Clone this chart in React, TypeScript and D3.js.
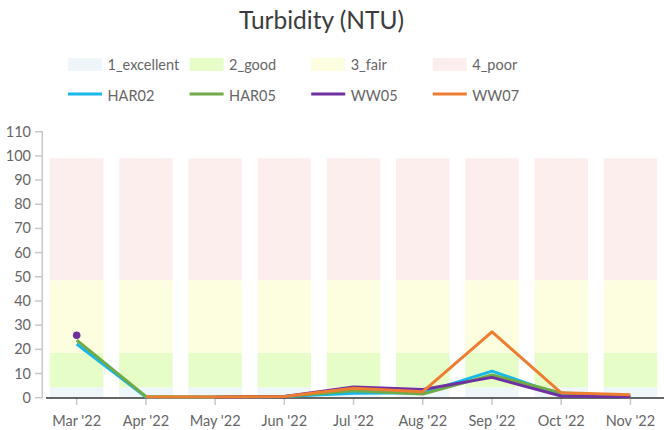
import React from "react";
import * as d3 from "d3";

const months = ["Mar '22", "Apr '22", "May '22", "Jun '22", "Jul '22", "Aug '22", "Sep '22", "Oct '22", "Nov '22"];
const bandNames = ["1_excellent", "2_good", "3_fair", "4_poor"];
const bandValues = [4.3, 14.3, 30, 50.4];
const bandColors = ["#eef6f9", "#e6fdc8", "#fdfddf", "#fdeeee"];

const seriesNames = ["HAR02", "HAR05", "WW05", "WW07"];
const seriesColors = ["#17b8ea", "#6fab46", "#7030a0", "#ed7d31"];
const har02: (number | null)[] = [22.2, 0.3, 0.2, 0.5, 1.8, 2.0, 11.0, 1.0, 0.5];
const har05: (number | null)[] = [23.8, 0.5, 0.3, 0.5, 2.9, 1.5, 9.4, 2.0, 0.1];
const ww05: (number | null)[] = [25.8, null, 0.2, 0.5, 4.4, 3.4, 8.4, 0.7, 0.3];
const ww07: (number | null)[] = [null, 0.3, 0.3, 0.5, 3.9, 2.5, 27.2, 2.0, 1.2];
const seriesData = [har02, har05, ww05, ww07];

const yTicks = [0, 10, 20, 30, 40, 50, 60, 70, 80, 90, 100, 110];

const W = 664;
const H = 430;
const FONT = "Lato, 'Open Sans', sans-serif";

export default function App() {
  const x = d3.scaleBand<string>().domain(months).range([42.1, 665]).paddingInner(0.227).paddingOuter(0.113);
  const y = d3.scaleLinear().domain([0, 110]).range([397.7, 131.7]);
  const cx = (m: string) => (x(m) as number) + x.bandwidth() / 2;

  const stacks = bandValues.map((_, i) => {
    const lo = d3.sum(bandValues.slice(0, i));
    return [lo, lo + bandValues[i]];
  });

  const line = d3
    .line<number | null>()
    .defined((d) => d !== null)
    .x((_, i) => cx(months[i]))
    .y((d) => y(d as number));

  return (
    <svg width={W} height={H} style={{ position: "absolute", left: 0, top: 0 }} fontFamily={FONT}>
      <text x={321.5} y={28.5} textAnchor="middle" fontSize={24.5} fill="#3c3c3c">
        Turbidity (NTU)
      </text>
      {bandNames.map((n, i) => (
        <g key={n} transform={`translate(${68 + i * 121.6},0)`}>
          <rect x={0} y={58} width={34} height={13} fill={bandColors[i]} />
          <text x={39.5} y={69.5} fontSize={14.5} fill="#666">
            {n}
          </text>
        </g>
      ))}
      {seriesNames.map((n, i) => (
        <g key={n} transform={`translate(${68 + i * 121.6},0)`}>
          <line x1={0} x2={34} y1={94} y2={94} stroke={seriesColors[i]} strokeWidth={3} />
          <text x={39.5} y={100.5} fontSize={14.5} fill="#666">
            {n}
          </text>
        </g>
      ))}
      {/* bars */}
      {months.map((m) =>
        stacks.map(([lo, hi], i) => (
          <rect key={m + i} x={x(m)} width={x.bandwidth()} y={y(hi)} height={y(lo) - y(hi)} fill={bandColors[i]} />
        ))
      )}
      {/* y axis */}
      <line x1={42.3} x2={42.3} y1={131} y2={398} stroke="#c8c8c8" strokeWidth={1.5} />
      {yTicks.map((t) => (
        <g key={t}>
          <line x1={35} x2={42} y1={y(t)} y2={y(t)} stroke="#c8c8c8" strokeWidth={1.5} />
          <text x={31} y={y(t) + 5} textAnchor="end" fontSize={14.5} fill="#666">
            {t}
          </text>
        </g>
      ))}
      {/* x axis */}
      {months.map((m) => (
        <g key={m}>
          <line x1={cx(m)} x2={cx(m)} y1={398} y2={405} stroke="#c8c8c8" strokeWidth={1.5} />
          <text x={cx(m)} y={426} textAnchor="middle" fontSize={14.5} fill="#666">
            {m}
          </text>
        </g>
      ))}
      <line x1={46} x2={664} y1={398} y2={398} stroke="#333" strokeWidth={1.5} />
      {/* lines */}
      {seriesData.map((d, i) => (
        <g key={i}>
          <path d={line(d) || ""} fill="none" stroke={seriesColors[i]} strokeWidth={3} strokeLinejoin="round" />
          {d.map((v, j) =>
            v !== null && (j === 0 || d[j - 1] === null) && (j === d.length - 1 || d[j + 1] === null) ? (
              <circle key={j} cx={cx(months[j])} cy={y(v)} r={3.8} fill={seriesColors[i]} />
            ) : null
          )}
        </g>
      ))}
    </svg>
  );
}
